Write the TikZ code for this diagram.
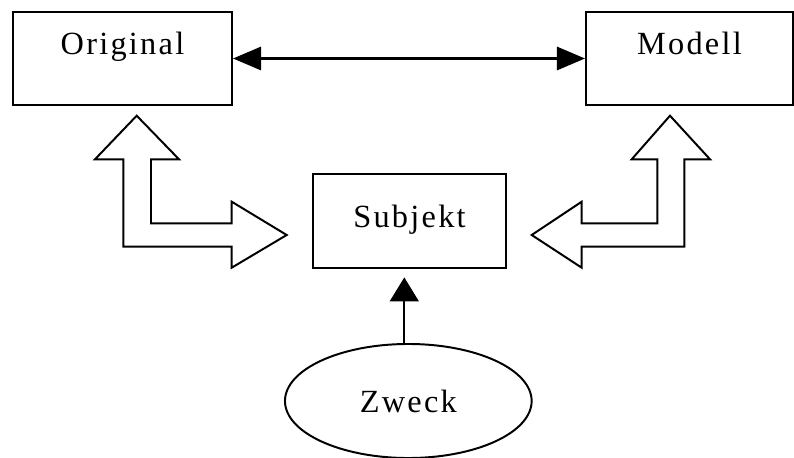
\documentclass[tikz,border=0pt]{standalone}
\usepackage{fontspec}
\setmainfont{Liberation Serif}[LetterSpace=7]
\usepackage{tikz}
\usetikzlibrary{arrows.meta}
\usetikzlibrary{shapes.geometric}

\begin{document}
\begin{tikzpicture}[x=0.025cm,y=-0.025cm,line width=1.4pt,
	boite/.style={draw,rectangle,inner xsep=0pt,inner ysep=0pt,font=\fontsize{23}{28}\selectfont},
	creux/.style={draw,fill=white,line join=miter},
	fleche/.style={line width=1.6pt}]
\useasboundingbox (0,0) rectangle (794,458);
\par
	\node[boite,minimum width=5.475cm,text height=1.075cm,text depth=1.25cm] (orig) at(122.5,58.5){Original};
	\node[boite,minimum width=5.175cm,text height=1.075cm,text depth=1.25cm] (modell) at(689.5,58.5){Modell};
	\node[boite,minimum width=4.825cm,text height=1.325cm,text depth=1.025cm] (subj) at(409.5,221){Subjekt};
	\node[draw,ellipse,inner sep=0pt,minimum width=6.165cm,minimum height=2.85cm,
		font=\fontsize{23}{28}\selectfont] (zweck) at(408.3,401){Zweck};
	% Original <-> Modell
	\draw[fleche,{Triangle[length=0.7cm,width=0.58cm]}-{Triangle[length=0.7cm,width=0.58cm]}] (orig.east) -- (modell.west);
	% Zweck -> Subjekt
	\draw[fleche,-{Triangle[length=0.6cm,width=0.72cm]},shorten >=0.21cm] ([xshift=-0.1cm]zweck.north) -- ([xshift=-0.1cm]zweck.north |- subj.south);
	% hohle Doppelpfeile
	\draw[creux] (136.7,115.7) -- (179,159.3) -- (151,159.3) -- (151,223.3) -- (231.7,223.3) -- (231.7,201.7)
		-- (286.7,235) -- (231.7,267.7) -- (231.7,246.7) -- (123.3,246.7) -- (123.3,159.3) -- (95,159.3) -- cycle;
	\draw[creux] (670,115.7) -- (710,159.3) -- (684.3,159.3) -- (684.3,246.7) -- (581.7,246.7) -- (581.7,267.7)
		-- (531.7,235) -- (581.7,201.7) -- (581.7,223.3) -- (657.3,223.3) -- (657.3,159.3) -- (631.7,159.3) -- cycle;
\end{tikzpicture}
\end{document}
